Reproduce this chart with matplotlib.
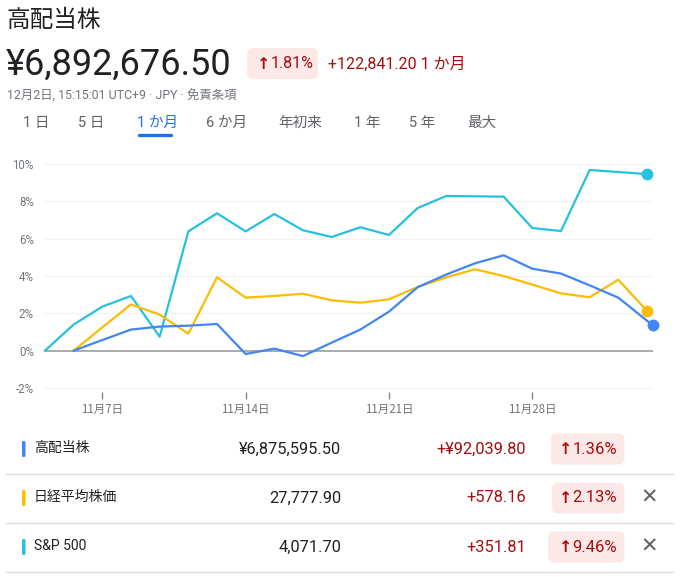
import matplotlib
matplotlib.use("Agg")
import matplotlib.pyplot as plt
from matplotlib.patches import FancyBboxPatch

plt.rcParams['font.family'] = ['Roboto', 'Noto Sans CJK JP', 'DejaVu Sans']

# ---------------- data ----------------
title = "高配当株"
price = "¥6,892,676.50"
head_arrow = "↑"
head_pct = "1.81%"
head_chg = "+122,841.20 1 か月"
subtitle = "12月2日, 15:15:01 UTC+9 · JPY · 免責条項"
tabs = ["1 日", "5 日", "1 か月", "6 か月", "年初来", "1 年", "5 年", "最大"]
active_tab = "1 か月"

# trading-day index (0 = 11/3 ... 21 = 12/2)
sp_x = [0, 1, 2, 3, 4, 5, 6, 7, 8, 9, 10, 11, 12, 13, 14, 15, 16, 17, 18, 19, 20, 21]
sp500 = [0, 1.40, 2.36, 2.93, 0.75, 6.39, 7.36, 6.39, 7.32, 6.45, 6.09, 6.61,
         6.20, 7.64, 8.29, 8.27, 8.25, 6.57, 6.41, 9.68, 9.57, 9.46]
nk_x = [1, 2, 3, 4, 5, 6, 7, 8, 9, 10, 11, 12, 13, 14, 15, 16, 17, 18, 19, 20, 21]
nikkei = [0, 1.25, 2.48, 1.93, 0.91, 3.93, 2.84, 2.93, 3.05, 2.70, 2.57, 2.75,
          3.41, 3.93, 4.36, 4.00, 3.54, 3.07, 2.86, 3.80, 2.13]
kh_x = [1, 2, 3, 4, 5, 6, 7, 8, 9, 10, 11, 12, 13, 14, 15, 16, 17, 18, 19, 20, 21.2]
kohaito = [0, 0.57, 1.13, 1.29, 1.34, 1.43, -0.18, 0.11, -0.29, 0.43, 1.13, 2.09,
           3.40, 4.08, 4.68, 5.11, 4.39, 4.13, 3.50, 2.84, 1.36]

yticks = [-2, 0, 2, 4, 6, 8, 10]
ytick_labels = ["-2%", "0%", "2%", "4%", "6%", "8%", "10%"]
xticks = [2, 7, 12, 17]
xtick_labels = ["11月7日", "11月14日", "11月21日", "11月28日"]

names = ["高配当株", "日経平均株価", "S&P 500"]
values = ["¥6,875,595.50", "27,777.90", "4,071.70"]
changes = ["+¥92,039.80", "+578.16", "+351.81"]
pcts = ["1.36%", "2.13%", "9.46%"]
removable = [False, True, True]

C_BLUE = "#4285f4"
C_YEL = "#fbbc04"
C_CYAN = "#24c1e0"
series_colors = [C_BLUE, C_YEL, C_CYAN]
RED = "#a50e0e"
PINK = "#fce8e6"
GRAY = "#70757a"
DARK = "#202124"

W, H = 682, 577
fig = plt.figure(figsize=(W / 100, H / 100), dpi=100)
fig.patch.set_facecolor("white")

# overlay in pixel coordinates
ov = fig.add_axes([0, 0, 1, 1])
ov.set_xlim(0, W)
ov.set_ylim(H, 0)
ov.axis("off")

def rbox(x0, y0, x1, y1, r, color):
    p = FancyBboxPatch((x0 + r, y0 + r), (x1 - x0) - 2 * r, (y1 - y0) - 2 * r,
                       boxstyle=f"round,pad={r}", fc=color, ec="none")
    ov.add_patch(p)

def arrow(x, y, size):
    ov.text(x, y, head_arrow, fontsize=size, color=RED, va="center", ha="center",
            family=["DejaVu Sans"], fontweight="bold")

# ---------------- header ----------------
ov.text(7, 20, title, fontsize=17, color=DARK, va="center", ha="left")
ov.text(6, 65, price, fontsize=26, color=DARK, va="center", ha="left")
rbox(247, 48, 318, 79, 6, PINK)
arrow(263.5, 64.5, 11.5)
ov.text(270.5, 64, head_pct, fontsize=11.5, color=RED, va="center", ha="left")
ov.text(328, 64, head_chg, fontsize=11.5, color=RED, va="center", ha="left")
ov.text(7, 96, subtitle, fontsize=8.9, color=GRAY, va="center", ha="left")

tab_x = [23, 78, 137, 206, 278, 354, 409, 467]
for tx, t in zip(tab_x, tabs):
    col = "#1a73e8" if t == active_tab else "#5f6368"
    ov.text(tx, 123, t, fontsize=10.5, color=col, va="center", ha="left")
ov.plot([139, 171], [134.5, 134.5], color="#1a73e8", lw=2.4, solid_capstyle="round")

# ---------------- chart ----------------
px_per = (388 - 164) / 12.0
y_lo, y_hi = -2.2, 10.2
top_px = 164 - (y_hi - 10) * px_per
bot_px = 388 + (-2 - y_lo) * px_per
left_px, right_px = 45, 653
ax = fig.add_axes([left_px / W, 1 - bot_px / H, (right_px - left_px) / W, (bot_px - top_px) / H])
ax.set_facecolor("none")
ax.set_xlim(0, 21.21)
ax.set_ylim(y_lo, y_hi)
for s in ax.spines.values():
    s.set_visible(False)
ax.set_yticks(yticks)
ax.set_yticklabels(ytick_labels)
ax.set_xticks(xticks)
ax.set_xticklabels(xtick_labels, family=["Noto Sans CJK JP", "DejaVu Sans"])
ax.tick_params(axis="y", length=0, pad=8, labelsize=8.3, labelcolor=GRAY)
ax.tick_params(axis="x", length=5, width=1, color="#80868b", pad=3, labelsize=8.3, labelcolor=GRAY)
ax.grid(axis="y", color="#f1f3f4", lw=0.9)
ax.set_axisbelow(True)
ax.axhline(0, color="#9e9e9e", lw=1.2, zorder=1)

ax.plot(sp_x, sp500, color=C_CYAN, lw=1.6, zorder=3, clip_on=False)
ax.plot(nk_x, nikkei, color=C_YEL, lw=1.6, zorder=4, clip_on=False)
ax.plot(kh_x, kohaito, color=C_BLUE, lw=1.6, zorder=5, clip_on=False)
ax.plot(sp_x[-1], sp500[-1], "o", ms=7.5, color=C_CYAN, zorder=6, clip_on=False)
ax.plot(nk_x[-1], nikkei[-1], "o", ms=7.5, color=C_YEL, zorder=6, clip_on=False)
ax.plot(kh_x[-1], kohaito[-1], "o", ms=7.5, color=C_BLUE, zorder=6, clip_on=False)

# ---------------- legend table ----------------
row_y = [449, 498, 547]
sep_y = [474, 523, 572]
badge_x0 = [551, 552, 548]
for i in range(3):
    y = row_y[i]
    rbox(22, y - 8, 25.5, y + 8, 1.5, series_colors[i])
    ov.text(34, y - 1, names[i], fontsize=10, color=DARK, va="center", ha="left")
    ov.text(341, y, values[i], fontsize=11.8, color=DARK, va="center", ha="right")
    ov.text(526, y, changes[i], fontsize=11.8, color=RED, va="center", ha="right")
    rbox(badge_x0[i], y - 15.5, 624.5, y + 15.5, 6, PINK)
    arrow(566, y + 0.5, 11.5)
    ov.text(572.5, y, pcts[i], fontsize=12, color=RED, va="center", ha="left")
    if removable[i]:
        ov.text(649, y, "✕", fontsize=15, color="#5f6368", va="center", ha="center",
                family=["DejaVu Sans"])
    ov.plot([6, 673], [sep_y[i], sep_y[i]], color="#dadce0", lw=1.0)

fig.savefig("out.png", dpi=100, facecolor="white")
